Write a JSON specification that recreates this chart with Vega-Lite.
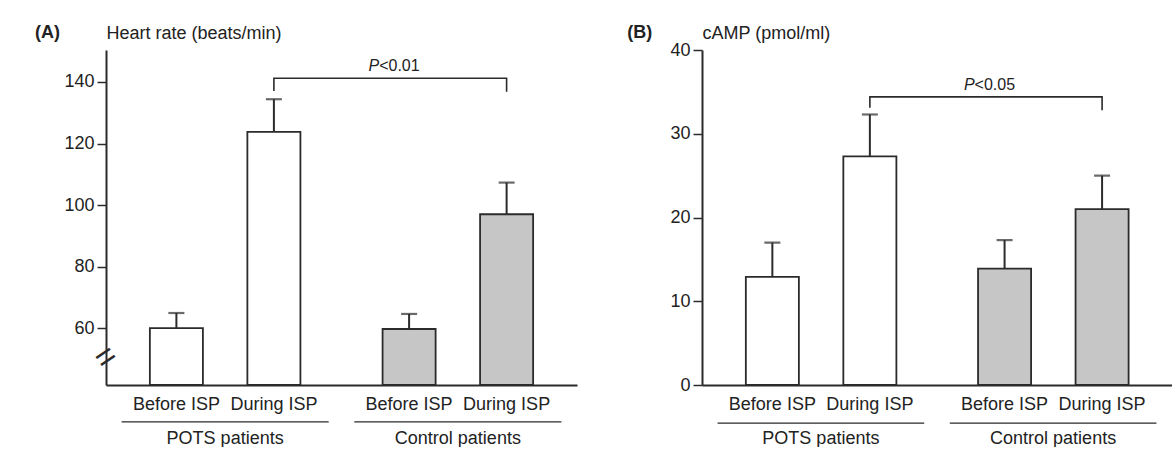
{
  "$schema": "https://vega.github.io/schema/vega-lite/v6.json",
  "padding": {"left": 35, "top": 23, "right": 0, "bottom": 0},
  "spacing": 50,
  "config": {
    "font": "Liberation Sans",
    "view": {"stroke": null},
    "axis": {"domainColor": "#2b2b2b", "tickColor": "#2b2b2b", "labelColor": "#222222", "titleColor": "#222222", "grid": false, "labelFontSize": 18, "titleFontSize": 18, "titleFontWeight": "normal", "domainWidth": 2, "tickWidth": 1.5, "tickSize": 9, "labelPadding": 3},
    "text": {"color": "#222222"}
  },
  "hconcat": [
    {
      "width": 471,
      "height": 335,
      "data": {"values": [
        {"group": "POTS patients", "phase": "Before ISP", "value": 60, "upper": 64.9},
        {"group": "POTS patients", "phase": "During ISP", "value": 123.8, "upper": 134.4},
        {"group": "Control patients", "phase": "Before ISP", "value": 59.7, "upper": 64.6},
        {"group": "Control patients", "phase": "During ISP", "value": 97, "upper": 107.3}
      ]},
      "encoding": {
        "x": {"field": "group", "type": "nominal", "sort": ["POTS patients", "Control patients"], "scale": {"paddingInner": 0.11, "paddingOuter": 0.067}, "axis": {"title": null, "ticks": false, "labelAngle": 0, "labelPadding": 44}},
        "xOffset": {"field": "phase", "type": "nominal", "sort": ["Before ISP", "During ISP"], "scale": {"paddingInner": 0.456, "paddingOuter": 0.29}}
      },
      "layer": [
        {
          "mark": {"type": "bar", "stroke": "#2b2b2b", "strokeWidth": 1.8},
          "encoding": {
            "y": {"field": "value", "type": "quantitative", "scale": {"domain": [41.5, 150.4], "nice": false, "zero": false}, "axis": {"values": [60, 80, 100, 120, 140], "title": "Heart rate (beats/min)", "titleAngle": 0, "titleAlign": "left", "titleBaseline": "middle", "titleX": 0, "titleY": -17}},
            "y2": {"datum": 41.5},
            "fill": {"field": "group", "type": "nominal", "scale": {"domain": ["POTS patients", "Control patients"], "range": ["#ffffff", "#c6c6c6"]}, "legend": null}
          }
        },
        {
          "mark": {"type": "rule", "strokeWidth": 2, "color": "#2b2b2b"},
          "encoding": {"y": {"field": "value", "type": "quantitative"}, "y2": {"field": "upper"}}
        },
        {
          "mark": {"type": "tick", "size": 16, "thickness": 2.2, "color": "#2b2b2b"},
          "encoding": {"y": {"field": "upper", "type": "quantitative"}}
        },
        {
          "mark": {"type": "text", "dy": 20, "fontSize": 18, "baseline": "middle"},
          "encoding": {"y": {"datum": 41.5}, "text": {"field": "phase"}}
        },
        {
          "transform": [{"filter": "datum.phase == 'Before ISP'"}],
          "mark": {"type": "bar", "fill": null, "stroke": "#2b2b2b", "strokeWidth": 1.2},
          "encoding": {"xOffset": null, "y": {"datum": 29.5}, "y2": {"datum": 29.5}}
        },
        {
          "data": {"values": [
            {"group": "POTS patients", "phase": "During ISP", "v": 137.1, "k": 1},
            {"group": "POTS patients", "phase": "During ISP", "v": 141.2, "k": 2},
            {"group": "Control patients", "phase": "During ISP", "v": 141.2, "k": 3},
            {"group": "Control patients", "phase": "During ISP", "v": 136.8, "k": 4}
          ]},
          "mark": {"type": "line", "strokeWidth": 1.6, "color": "#2b2b2b"},
          "encoding": {"y": {"field": "v", "type": "quantitative"}, "order": {"field": "k"}}
        },
        {
          "data": {"values": [{"p": "P", "rest": "<0.01"}]},
          "encoding": {"xOffset": null, "x": {"datum": "Control patients", "bandPosition": 0.12}, "y": {"datum": 145.2}},
          "layer": [
            {"mark": {"type": "text", "fontSize": 16, "fontStyle": "italic", "align": "right", "baseline": "middle"}, "encoding": {"text": {"field": "p"}}},
            {"mark": {"type": "text", "fontSize": 16, "align": "left", "baseline": "middle"}, "encoding": {"text": {"field": "rest"}}}
          ]
        },
        {
          "data": {"values": [{"panel": "(A)"}]},
          "mark": {"type": "text", "fontSize": 18, "fontWeight": "bold", "align": "left", "baseline": "middle"},
          "encoding": {"xOffset": null, "x": {"datum": "POTS patients", "bandPosition": -0.418}, "y": {"datum": 155.9}, "text": {"field": "panel"}}
        },
        {
          "data": {"values": [{"sym": "="}]},
          "mark": {"type": "text", "fontSize": 34, "angle": 326, "align": "center", "baseline": "middle", "color": "#2b2b2b"},
          "encoding": {"xOffset": null, "x": {"datum": "POTS patients", "bandPosition": -0.075}, "y": {"datum": 50.3}, "text": {"field": "sym"}}
        }
      ]
    },
    {
      "width": 470,
      "height": 335,
      "data": {"values": [
        {"group": "POTS patients", "phase": "Before ISP", "value": 12.9, "upper": 17.0},
        {"group": "POTS patients", "phase": "During ISP", "value": 27.3, "upper": 32.3},
        {"group": "Control patients", "phase": "Before ISP", "value": 13.9, "upper": 17.3},
        {"group": "Control patients", "phase": "During ISP", "value": 21.0, "upper": 25.0}
      ]},
      "encoding": {
        "x": {"field": "group", "type": "nominal", "sort": ["POTS patients", "Control patients"], "scale": {"paddingInner": 0.11, "paddingOuter": 0.067}, "axis": {"title": null, "ticks": false, "labelAngle": 0, "labelPadding": 44}},
        "xOffset": {"field": "phase", "type": "nominal", "sort": ["Before ISP", "During ISP"], "scale": {"paddingInner": 0.456, "paddingOuter": 0.29}}
      },
      "layer": [
        {
          "mark": {"type": "bar", "stroke": "#2b2b2b", "strokeWidth": 1.8},
          "encoding": {
            "y": {"field": "value", "type": "quantitative", "scale": {"domain": [0, 40], "nice": false}, "axis": {"values": [0, 10, 20, 30, 40], "title": "cAMP (pmol/ml)", "titleAngle": 0, "titleAlign": "left", "titleBaseline": "middle", "titleX": 0, "titleY": -17}},
            "fill": {"field": "group", "type": "nominal", "scale": {"domain": ["POTS patients", "Control patients"], "range": ["#ffffff", "#c6c6c6"]}, "legend": null}
          }
        },
        {
          "mark": {"type": "rule", "strokeWidth": 2, "color": "#2b2b2b"},
          "encoding": {"y": {"field": "value", "type": "quantitative"}, "y2": {"field": "upper"}}
        },
        {
          "mark": {"type": "tick", "size": 16, "thickness": 2.2, "color": "#2b2b2b"},
          "encoding": {"y": {"field": "upper", "type": "quantitative"}}
        },
        {
          "mark": {"type": "text", "dy": 20, "fontSize": 18, "baseline": "middle"},
          "encoding": {"y": {"datum": 0}, "text": {"field": "phase"}}
        },
        {
          "transform": [{"filter": "datum.phase == 'Before ISP'"}],
          "mark": {"type": "bar", "fill": null, "stroke": "#2b2b2b", "strokeWidth": 1.2},
          "encoding": {"xOffset": null, "y": {"datum": -4.55}, "y2": {"datum": -4.55}}
        },
        {
          "data": {"values": [
            {"group": "POTS patients", "phase": "During ISP", "v": 33.1, "k": 1},
            {"group": "POTS patients", "phase": "During ISP", "v": 34.4, "k": 2},
            {"group": "Control patients", "phase": "During ISP", "v": 34.4, "k": 3},
            {"group": "Control patients", "phase": "During ISP", "v": 32.8, "k": 4}
          ]},
          "mark": {"type": "line", "strokeWidth": 1.6, "color": "#2b2b2b"},
          "encoding": {"y": {"field": "v", "type": "quantitative"}, "order": {"field": "k"}}
        },
        {
          "data": {"values": [{"p": "P", "rest": "<0.05"}]},
          "encoding": {"xOffset": null, "x": {"datum": "Control patients", "bandPosition": 0.12}, "y": {"datum": 35.8}},
          "layer": [
            {"mark": {"type": "text", "fontSize": 16, "fontStyle": "italic", "align": "right", "baseline": "middle"}, "encoding": {"text": {"field": "p"}}},
            {"mark": {"type": "text", "fontSize": 16, "align": "left", "baseline": "middle"}, "encoding": {"text": {"field": "rest"}}}
          ]
        },
        {
          "data": {"values": [{"panel": "(B)"}]},
          "mark": {"type": "text", "fontSize": 18, "fontWeight": "bold", "align": "left", "baseline": "middle"},
          "encoding": {"xOffset": null, "x": {"datum": "POTS patients", "bandPosition": -0.437}, "y": {"datum": 42.05}, "text": {"field": "panel"}}
        }
      ]
    }
  ]
}
